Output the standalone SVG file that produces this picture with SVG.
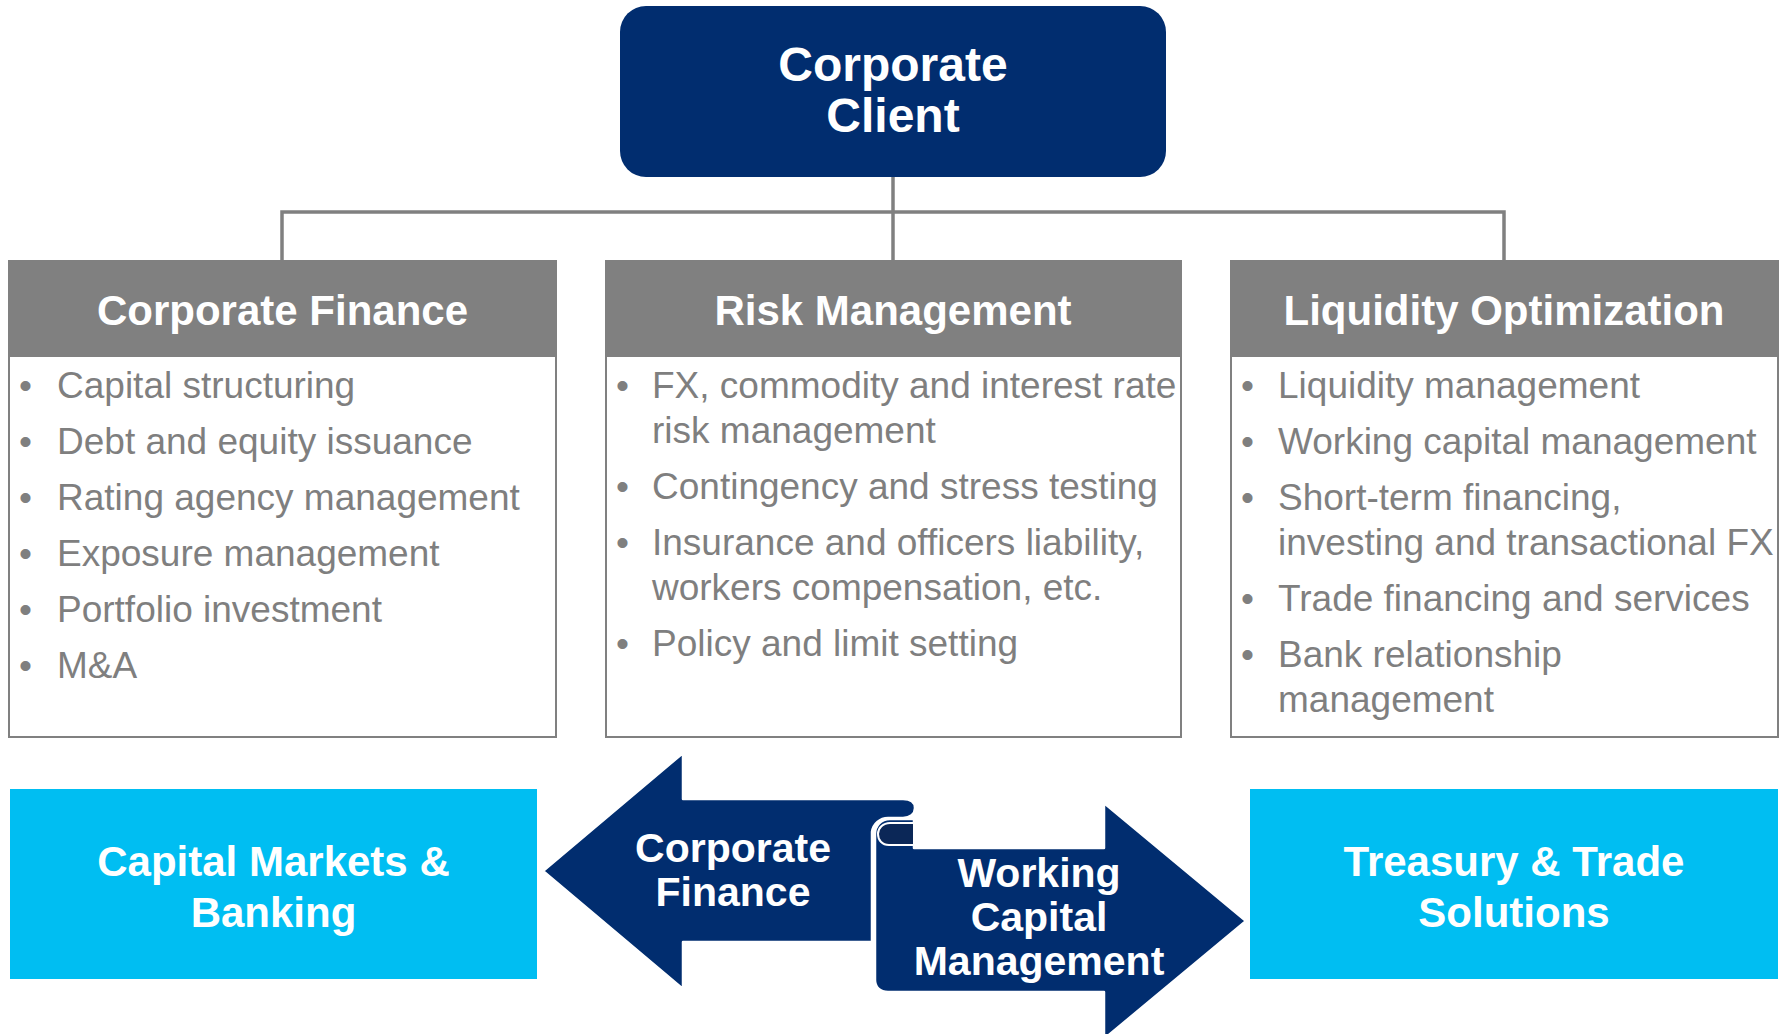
<svg xmlns="http://www.w3.org/2000/svg" width="1791" height="1034" viewBox="0 0 1791 1034">
  <style>
    .navy { fill: #012d6f; }
    .cyan { fill: #00bef2; }
    .hdr { fill: #808080; }
    .body { fill: #ffffff; stroke: #808080; stroke-width: 2; }
    .wire { fill: none; stroke: #808080; stroke-width: 3.5; }
    .title { font-family: "Liberation Sans", Arial, sans-serif; font-weight: bold; fill: #ffffff; text-anchor: middle; }
    .item { font-family: "Liberation Sans", Arial, sans-serif; font-size: 37px; fill: #7f7f7f; }
    .arrow { fill: #012d6f; stroke: #ffffff; stroke-width: 2.5; stroke-linejoin: round; }
  </style>

  <!-- tree connectors -->
  <g id="connectors">
    <path class="wire" d="M893 177 V261"/>
    <path class="wire" d="M282 261 V212 H1504 V261"/>
  </g>

  <g id="corporate-client">
    <rect class="navy" x="620" y="6" width="546" height="171" rx="26"/>
    <text class="title" x="893" y="81" font-size="48">Corporate</text>
    <text class="title" x="893" y="132" font-size="48">Client</text>
  </g>

  <g id="corporate-finance">
    <rect class="body" x="9" y="261" width="547" height="476"/>
    <rect class="hdr" x="8" y="260" width="549" height="97"/>
    <text class="title" x="282.5" y="325" font-size="42">Corporate Finance</text>
    <g class="item">
      <text x="19" y="398">•</text><text x="57" y="398">Capital structuring</text>
      <text x="19" y="454">•</text><text x="57" y="454">Debt and equity issuance</text>
      <text x="19" y="510">•</text><text x="57" y="510">Rating agency management</text>
      <text x="19" y="566">•</text><text x="57" y="566">Exposure management</text>
      <text x="19" y="622">•</text><text x="57" y="622">Portfolio investment</text>
      <text x="19" y="678">•</text><text x="57" y="678">M&amp;A</text>
    </g>
  </g>

  <g id="risk-management">
    <rect class="body" x="606" y="261" width="575" height="476"/>
    <rect class="hdr" x="605" y="260" width="577" height="97"/>
    <text class="title" x="893" y="325" font-size="42">Risk Management</text>
    <g class="item">
      <text x="616" y="398">•</text><text x="652" y="398">FX, commodity and interest rate</text>
      <text x="652" y="443">risk management</text>
      <text x="616" y="499">•</text><text x="652" y="499">Contingency and stress testing</text>
      <text x="616" y="555">•</text><text x="652" y="555">Insurance and officers liability,</text>
      <text x="652" y="600">workers compensation, etc.</text>
      <text x="616" y="656">•</text><text x="652" y="656">Policy and limit setting</text>
    </g>
  </g>

  <g id="liquidity-optimization">
    <rect class="body" x="1231" y="261" width="547" height="476"/>
    <rect class="hdr" x="1230" y="260" width="549" height="97"/>
    <text class="title" x="1504" y="325" font-size="42">Liquidity Optimization</text>
    <g class="item">
      <text x="1241" y="398">•</text><text x="1278" y="398">Liquidity management</text>
      <text x="1241" y="454">•</text><text x="1278" y="454">Working capital management</text>
      <text x="1241" y="510">•</text><text x="1278" y="510">Short-term financing,</text>
      <text x="1278" y="555">investing and transactional FX</text>
      <text x="1241" y="611">•</text><text x="1278" y="611">Trade financing and services</text>
      <text x="1241" y="667">•</text><text x="1278" y="667">Bank relationship</text>
      <text x="1278" y="712">management</text>
    </g>
  </g>

  <g id="capital-markets-banking">
    <rect class="cyan" x="10" y="789" width="527" height="190"/>
    <text class="title" x="273.5" y="876" font-size="42">Capital Markets &amp;</text>
    <text class="title" x="273.5" y="927" font-size="42">Banking</text>
  </g>

  <g id="treasury-trade-solutions">
    <rect class="cyan" x="1250" y="789" width="528" height="190"/>
    <text class="title" x="1514" y="876" font-size="42">Treasury &amp; Trade</text>
    <text class="title" x="1514" y="927" font-size="42">Solutions</text>
  </g>

  <!-- scroll-shaped double arrow -->
  <g id="corporate-finance-arrow">
    <path class="arrow" d="M543 871 L683 753 L683 799 L903 799 C911 799 915 803 915 808 C915 814 910 818 903 818 L888 818 C880 818 873 824 872 832 L872 942 L683 942 L683 989 Z"/>
    <text class="title" x="733" y="862" font-size="41">Corporate</text>
    <text class="title" x="733" y="906" font-size="41">Finance</text>
  </g>

  <g id="working-capital-arrow">
    <path class="arrow" d="M1104 848 L1104 803 L1246 921 L1104 1039 L1104 992 L888 992 C880 992 875 987 875 980 L875 834 C875 826 881 819 890 819 L914 819 L914 848 Z"/>
    <path d="M914 823 L914 845 L889 845 C882 845 878 840 878 834 C878 828 883 823 890 823 Z" fill="#0b2757" stroke="#ffffff" stroke-width="2"/>
    <text class="title" x="1039" y="887" font-size="41">Working</text>
    <text class="title" x="1039" y="931" font-size="41">Capital</text>
    <text class="title" x="1039" y="975" font-size="41">Management</text>
  </g>
</svg>
